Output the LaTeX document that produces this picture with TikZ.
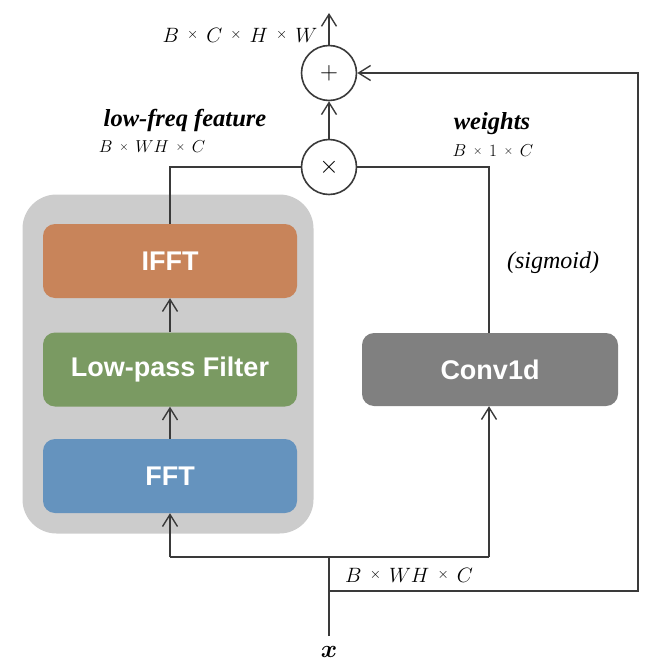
\documentclass[tikz,border=0pt]{standalone}
\usepackage{bm}
\usepackage{fontspec}
\usetikzlibrary{arrows.meta}
\newfontfamily\hvfont{Liberation Sans}
\newfontfamily\tnrfont{Liberation Serif}
\definecolor{lc}{HTML}{3A3A3A}
\definecolor{ifftc}{HTML}{C8845A}
\definecolor{lpfc}{HTML}{7A9A62}
\definecolor{fftc}{HTML}{6593BE}
\definecolor{convc}{HTML}{808080}
\definecolor{contc}{HTML}{CCCCCC}
\newcommand{\tm}{\mathbin{\,\raisebox{0.16em}{$\scriptstyle\times$}\,}}
\newcommand{\bx}{$\bm{x}$}
\begin{document}
\begin{tikzpicture}[x=1pt,y=-1pt,
  line/.style={draw=lc,line width=1.6pt},
  arr/.style={line,-{Straight Barb[length=12pt,width=15pt,line width=1.4pt]}},
  blk/.style={rounded corners=12pt,minimum width=254pt,minimum height=74pt,inner sep=0pt,
     text=white,font=\hvfont\bfseries\fontsize{27}{30}\selectfont},
  op/.style={circle,draw=lc,line width=1.6pt,fill=white,minimum size=55pt,inner sep=0pt,
     font=\fontsize{30}{32}\selectfont},
  dim/.style={inner sep=0pt,font=\fontsize{17.5}{20}\selectfont},
  bigdim/.style={inner sep=0pt,font=\fontsize{20}{24}\selectfont},
  lbl/.style={inner sep=0pt,font=\tnrfont\bfseries\itshape\fontsize{24.5}{28}\selectfont}]
\useasboundingbox (0,0) rectangle (664,666);
% container
\node[fill=contc,rounded corners=34pt,minimum width=291pt,minimum height=339pt,inner sep=0pt] (cont) at (168,364) {};
\node[blk,fill=ifftc] (ifft) at (170,261) {IFFT};
\node[blk,fill=lpfc] (lpf) at (170,369.5) {Low-pass Filter};
\node[blk,fill=fftc] (fft) at (170,476) {FFT};
\node[blk,fill=convc,minimum width=256pt,minimum height=73pt] (conv) at (490,369.5) {Conv1d};
\node[op] (mul) at (329,167) {$\times$};
\node[op] (add) at (329,73) {$+$};
\coordinate (top) at (329,13);
\coordinate (c1) at (170,167);
\coordinate (c2) at (489,167);
\coordinate (j) at (329,557);
\coordinate (jl) at (170,557);
\coordinate (jr) at (489,557);
\coordinate (xin) at (329,636);
\coordinate (jb) at (329,591);
\coordinate (rb) at (638,591);
\coordinate (rt) at (638,73);
% connectors
\draw[arr] (fft.north) -- (lpf.south);
\draw[arr] (lpf.north) -- (ifft.south);
\draw[line] (ifft.north) -- (c1) -- (mul.west);
\draw[line] (mul.east) -- (c2) -- (conv.north -| c2);
\draw[arr] (mul.north) -- (add.south);
\draw[arr] (add.north) -- (top);
\draw[line] (xin) -- (j);
\draw[line] (jl) -- (jr);
\draw[arr] (jl) -- (fft.south);
\draw[arr] (jr) -- (conv.south -| jr);
\draw[arr] (jb) -- (rb) -- (rt) -- (add.east);
% labels
\node[bigdim] (d1) at (240,35) {$B \tm C \tm H \tm W$};
\node[lbl] (lf) at (185,120) {low-freq feature};
\node[dim] (d2) at (152,147) {$B \tm WH \tm C$};
\node[lbl] (wt) at (492,124) {weights};
\node[dim] (d3) at (493,151) {$B \tm 1 \tm C$};
\node[inner sep=0pt,font=\tnrfont\itshape\fontsize{24}{28}\selectfont] (sig) at (553,263) {(sigmoid)};
\node[bigdim] (d4) at (409,575) {$B \tm WH \tm C$};
\node[inner sep=0pt,font=\fontsize{34}{36}\selectfont] (xl) at (329,652) {\bx};
\end{tikzpicture}
\end{document}
